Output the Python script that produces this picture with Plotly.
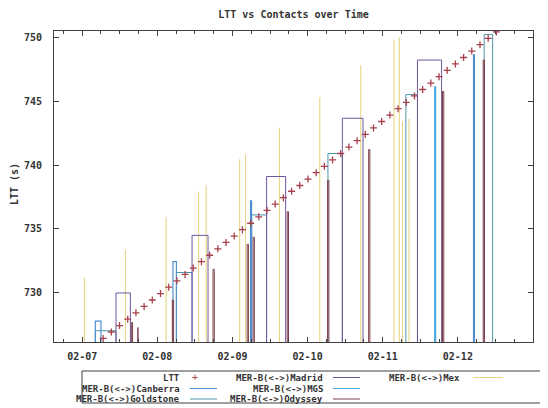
import pandas as pd
import plotly.graph_objects as go

# ---------------- data ----------------
ltt_start = "2004-02-07 06:42"
ltt_step = "157min"
ltt_values = [726.45, 726.95, 727.45, 727.95, 728.45, 728.95, 729.45, 729.95,
              730.45, 730.95, 731.45, 731.95, 732.45, 732.95, 733.45, 733.95,
              734.45, 734.95, 735.45, 735.95, 736.45, 736.95, 737.45, 737.95,
              738.4, 738.9, 739.4, 739.9, 740.4, 740.9, 741.4, 741.9,
              742.4, 742.9, 743.4, 743.9, 744.4, 744.9, 745.4, 745.9,
              746.4, 746.9, 747.4, 747.9, 748.4, 748.9, 749.4, 749.9, 750.4]

madrid_start = ["2004-02-07 10:48", "2004-02-08 11:06", "2004-02-09 10:54", "2004-02-10 11:06", "2004-02-11 11:06"]
madrid_end = ["2004-02-07 15:24", "2004-02-08 16:12", "2004-02-09 17:00", "2004-02-10 17:42", "2004-02-11 18:48"]
madrid_val = [730.0, 734.5, 739.1, 743.65, 748.2]

canberra_start = ["2004-02-07 04:12", "2004-02-08 05:00", "2004-02-09 05:48", "2004-02-12 05:00"]
canberra_end = ["2004-02-07 06:00", "2004-02-08 06:06", "2004-02-09 06:06", "2004-02-12 05:18"]
canberra_val = [727.8, 732.45, 737.2, 748.6]

goldstone_start = ["2004-02-07 04:12", "2004-02-08 06:06", "2004-02-09 06:09", "2004-02-10 06:30", "2004-02-11 07:24", "2004-02-12 08:24"]
goldstone_end = ["2004-02-07 10:48", "2004-02-08 11:06", "2004-02-09 10:54", "2004-02-10 11:06", "2004-02-11 11:06", "2004-02-12 11:06"]
goldstone_val = [727.05, 731.6, 736.1, 740.9, 745.5, 750.2]

mgs_start = ["2004-02-11 16:36"]
mgs_end = ["2004-02-11 16:54"]
mgs_val = [746.1]

odyssey_start = ["2004-02-07 15:42", "2004-02-07 17:48", "2004-02-08 04:48", "2004-02-08 17:48",
                 "2004-02-09 04:42", "2004-02-09 06:36", "2004-02-09 17:30", "2004-02-10 06:24",
                 "2004-02-10 19:30", "2004-02-11 19:06", "2004-02-12 08:06"]
odyssey_end = ["2004-02-07 16:06", "2004-02-07 18:00", "2004-02-08 05:12", "2004-02-08 18:12",
               "2004-02-09 05:06", "2004-02-09 07:00", "2004-02-09 17:54", "2004-02-10 06:48",
               "2004-02-10 19:54", "2004-02-11 19:30", "2004-02-12 08:30"]
odyssey_val = [727.7, 727.3, 729.45, 731.85, 733.8, 734.35, 736.35, 738.8, 741.2, 745.75, 748.2]

mex_time = ["2004-02-07 00:42", "2004-02-07 13:48", "2004-02-08 02:48", "2004-02-08 13:12",
            "2004-02-08 15:36", "2004-02-09 02:18", "2004-02-09 04:12", "2004-02-09 15:00",
            "2004-02-10 03:54", "2004-02-10 17:00", "2004-02-11 03:36", "2004-02-11 05:18",
            "2004-02-11 06:18", "2004-02-11 08:24"]
mex_val = [731.2, 733.4, 735.9, 737.9, 738.4, 740.45, 740.8, 742.9, 745.3, 747.8, 749.8, 750.0, 743.4, 743.6]

x_tick_vals = ["2004-02-07", "2004-02-08", "2004-02-09", "2004-02-10", "2004-02-11", "2004-02-12", "2004-02-13"]
x_tick_text = ["02-07", "02-08", "02-09", "02-10", "02-11", "02-12", "02-13"]
y_tick_vals = [730, 735, 740, 745, 750]

# ---------------- styling ----------------
C_LTT = "#a8404c"
C_MAD = "#6f55a0"
C_CAN = "#4f8fcf"
C_GOL = "#4f93a8"
C_MGS = "#4aa8e0"
C_ODY = "#7d3f4a"
C_MEX = "#e6d27a"
FONT = "DejaVu Sans Mono"
TXT = "#333333"
BASE = 700.0  # below the axis, clipped

OFF = 8  # page body margin offset
W, H = 548 - OFF, 408 - OFF
L, R, T, B = 54 - OFF, 15, 31 - OFF, H - (342 - OFF)


def boxes(starts, ends, vals):
    xs, ys = [], []
    for s, e, v in zip(starts, ends, vals):
        xs += [s, s, e, e, None]
        ys += [BASE, v, v, BASE, None]
    return xs, ys


def impulses(times, vals):
    xs, ys = [], []
    for t, v in zip(times, vals):
        xs += [t, t, None]
        ys += [BASE, v, None]
    return xs, ys


fig = go.Figure()

for name, (xs, ys), col, w in [
    ("MER-B(<->)Mex", impulses(mex_time, mex_val), C_MEX, 1),
    ("MER-B(<->)Goldstone", boxes(goldstone_start, goldstone_end, goldstone_val), C_GOL, 1),
    ("MER-B(<->)Canberra", boxes(canberra_start, canberra_end, canberra_val), C_CAN, 1.2),
    ("MER-B(<->)MGS", boxes(mgs_start, mgs_end, mgs_val), C_MGS, 1.2),
    ("MER-B(<->)Madrid", boxes(madrid_start, madrid_end, madrid_val), C_MAD, 1),
    ("MER-B(<->)Odyssey", boxes(odyssey_start, odyssey_end, odyssey_val), C_ODY, 1),
]:
    fig.add_trace(go.Scatter(x=xs, y=ys, mode="lines", name=name,
                             line=dict(color=col, width=w), showlegend=False,
                             connectgaps=False))

ltt_times = pd.date_range(ltt_start, periods=len(ltt_values), freq=ltt_step)
fig.add_trace(go.Scatter(x=ltt_times, y=ltt_values, mode="markers", name="LTT",
                         marker=dict(symbol="cross-thin", size=5, color=C_LTT,
                                     line=dict(color=C_LTT, width=1.3)),
                         showlegend=False))

axis_common = dict(showline=True, linecolor="#404040", linewidth=1, mirror="ticks",
                   ticks="inside", tickcolor="#404040", showgrid=False, zeroline=False,
                   automargin=False,
                   tickfont=dict(family=FONT, size=10, color=TXT, weight="bold"))

fig.update_xaxes(type="date", range=["2004-02-06 15:00", "2004-02-13 00:00"],
                 tickvals=x_tick_vals, ticktext=x_tick_text, ticklen=5,
                 ticklabelstandoff=5,
                 minor=dict(dtick=6 * 3600 * 1000, ticks="inside", ticklen=3,
                            tickcolor="#404040", showgrid=False),
                 **axis_common)
fig.update_yaxes(range=[726.17, 750.47], tickvals=y_tick_vals, ticklen=5,
                 ticklabelstandoff=9, **axis_common)


def px(xp):
    return (xp - OFF - L) / (W - L - R)


def py(yp):
    return (H - B - (yp - OFF)) / (H - T - B)


annotations = []
shapes = []
# y axis title
annotations.append(dict(text="LTT (s)", xref="paper", yref="paper", x=px(14), y=py(184),
                        xanchor="center", yanchor="middle", showarrow=False, textangle=-90,
                        font=dict(family=FONT, size=10, color=TXT, weight="bold")))
# legend frame
shapes.append(dict(type="rect", xref="paper", yref="paper", x0=px(82), x1=px(545),
                   y0=py(403), y1=py(371), line=dict(color="#404040", width=1)))

rows = [377.5, 388.5, 399]
entries = [
    ("LTT", 182, rows[0], None, C_LTT, (190, 217)),
    ("MER-B(<->)Canberra", 182, rows[1], "line", C_CAN, (190, 217)),
    ("MER-B(<->)Goldstone", 182, rows[2], "line", C_GOL, (190, 217)),
    ("MER-B(<->)Madrid", 325, rows[0], "line", C_MAD, (333, 360)),
    ("MER-B(<->)MGS", 325, rows[1], "line", C_MGS, (333, 360)),
    ("MER-B(<->)Odyssey", 325, rows[2], "line", C_ODY, (333, 360)),
    ("MER-B(<->)Mex", 462, rows[0], "line", C_MEX, (473, 503)),
]
for text, xr, yr, kind, col, (s0, s1) in entries:
    annotations.append(dict(text=text, xref="paper", yref="paper", x=px(xr), y=py(yr),
                            xanchor="right", yanchor="middle", showarrow=False,
                            font=dict(family=FONT, size=9, color=TXT, weight="bold")))
    if kind == "line":
        shapes.append(dict(type="line", xref="paper", yref="paper", x0=px(s0), x1=px(s1),
                           y0=py(yr), y1=py(yr), line=dict(color=col, width=1)))
    else:
        annotations.append(dict(text="+", xref="paper", yref="paper", x=px(195), y=py(yr),
                                xanchor="center", yanchor="middle", showarrow=False,
                                font=dict(family=FONT, size=10, color=col)))

fig.update_layout(
    width=W, height=H,
    margin=dict(l=L, r=R, t=T, b=B),
    paper_bgcolor="white", plot_bgcolor="white",
    title=dict(text="LTT vs Contacts over Time", x=0.5, xref="paper",
               y=1 - (14 - OFF) / H, yref="container", yanchor="middle", xanchor="center",
               font=dict(family=FONT, size=10, color=TXT, weight="bold")),
    showlegend=False,
    annotations=annotations,
    shapes=shapes,
)

fig.write_html("out.html")
